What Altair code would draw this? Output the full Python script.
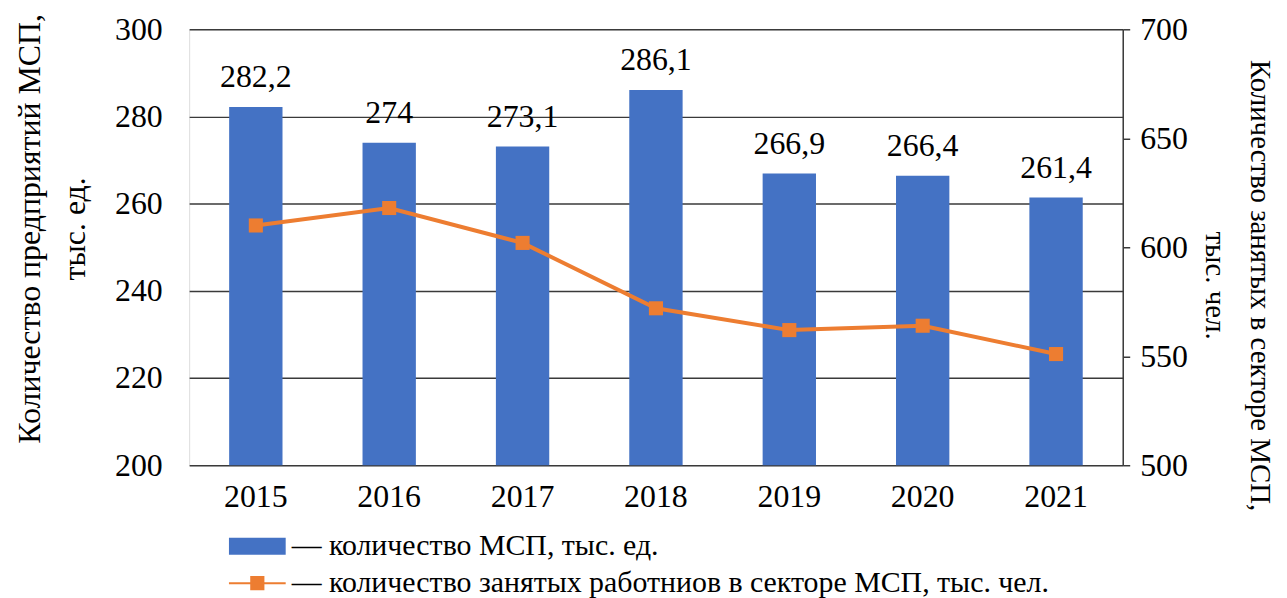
import altair as alt
import pandas as pd

years = ["2015", "2016", "2017", "2018", "2019", "2020", "2021"]
msp_count = [282.2, 274.0, 273.1, 286.1, 266.9, 266.4, 261.4]
employed = [610, 618, 602, 572, 562, 564, 551]

bar_label = "— количество МСП, тыс. ед."
line_label = "— количество занятых работниов в секторе МСП, тыс. чел."
left_title = ["Количество предприятий МСП,", "тыс. ед."]
right_title = ["Количество занятых в секторе МСП,", "тыс. чел."]
left_ticks = [200, 220, 240, 260, 280, 300]
right_ticks = [500, 550, 600, 650, 700]

df = pd.DataFrame({"year": years, "count": msp_count, "employed": employed,
                   "s1": bar_label, "s2": line_label})

FONT = "Times New Roman, Liberation Serif, serif"
BLUE = "#4472C4"
ORANGE = "#ED7D31"
GRID = "#3a3a3a"
FS = 32

x_enc = alt.X("year:N", scale=alt.Scale(paddingInner=0.6, paddingOuter=0.3),
              axis=alt.Axis(title=None, labelAngle=0, ticks=False, domain=False,
                            labelPadding=16, labelFontSize=FS, labelFont=FONT,
                            labelColor="black", grid=False))

y_left = alt.Y("count:Q", scale=alt.Scale(domain=[200, 300], zero=False, nice=False),
               axis=alt.Axis(values=left_ticks, title=left_title, orient="left",
                             grid=True, gridColor=GRID, gridWidth=1.5, gridOpacity=1,
                             domain=False, ticks=False, labelPadding=27,
                             labelFontSize=FS, labelFont=FONT, labelColor="black",
                             titleFont=FONT, titleFontSize=32, titleFontWeight="normal",
                             titleColor="black", titleAngle=270, titleX=-160, titleY=200,
                             titleAlign="center", titleBaseline="middle",
                             titleLineHeight=45))

y_right = alt.Y("employed:Q", scale=alt.Scale(domain=[500, 700], zero=False, nice=False),
                axis=alt.Axis(values=right_ticks, title=right_title, orient="right",
                              grid=False, domain=True, domainColor=GRID, domainWidth=1.5,
                              ticks=True, tickSize=7, tickColor=GRID, tickWidth=1.5,
                              labelPadding=10, labelFontSize=FS, labelFont=FONT,
                              labelColor="black", titleFont=FONT, titleFontSize=29,
                              titleFontWeight="normal", titleColor="black", titleAngle=90,
                              titleX=137, titleY=257, titleAlign="center",
                              titleBaseline="middle", titleLineHeight=45))

base = alt.Chart(df)

bars = base.mark_bar(opacity=1).encode(
    x=x_enc,
    y=y_left,
    y2=alt.datum(200),
    fill=alt.Fill("s1:N", scale=alt.Scale(domain=[bar_label], range=[BLUE]),
                  legend=alt.Legend(title=None, orient="none", legendX=40, legendY=491,
                                    symbolType="M-1,-0.3H1V0.3H-1Z", symbolSize=3249,
                                    symbolStrokeWidth=0, symbolOpacity=1,
                                    labelFont=FONT, labelFontSize=30, labelColor="black",
                                    labelOffset=6, padding=0, labelLimit=1200)),
)

labels = base.mark_text(dy=-20, baseline="alphabetic", font=FONT, fontSize=FS,
                        color="black").encode(
    x=x_enc,
    y=y_left,
    text="lbl:N",
).transform_calculate(lbl="replace(toString(datum['count']), '.', ',')")

line = base.mark_line(color=ORANGE, strokeWidth=4).encode(x=x_enc, y=y_right)
points = base.mark_point(shape="square", filled=True, size=200, opacity=1).encode(
    x=x_enc,
    y=y_right,
    fill=alt.Fill("s2:N", scale=alt.Scale(domain=[line_label], range=[ORANGE]),
                  legend=alt.Legend(title=None, orient="none", legendX=40, legendY=528,
                                    symbolType="M-1,-0.035H1V0.035H-1Z M-0.25,-0.25H0.25V0.25H-0.25Z",
                                    symbolSize=3249, symbolStrokeWidth=0, symbolOpacity=1,
                                    labelFont=FONT, labelFontSize=30, labelColor="black",
                                    labelOffset=6, padding=0, labelLimit=1200)),
)

left_layer = alt.layer(bars, labels)
right_layer = alt.layer(line, points)

chart = alt.layer(left_layer, right_layer).resolve_scale(
    y="independent", fill="independent"
).properties(
    width=938, height=438,
    padding={"left": 182, "top": 20, "right": 157, "bottom": 132},
    autosize=alt.AutoSizeParams(type="none"),
).configure_view(stroke=None).configure(background="white", font=FONT)

chart.save("out.html", embed_options={"renderer": "svg", "actions": False})
